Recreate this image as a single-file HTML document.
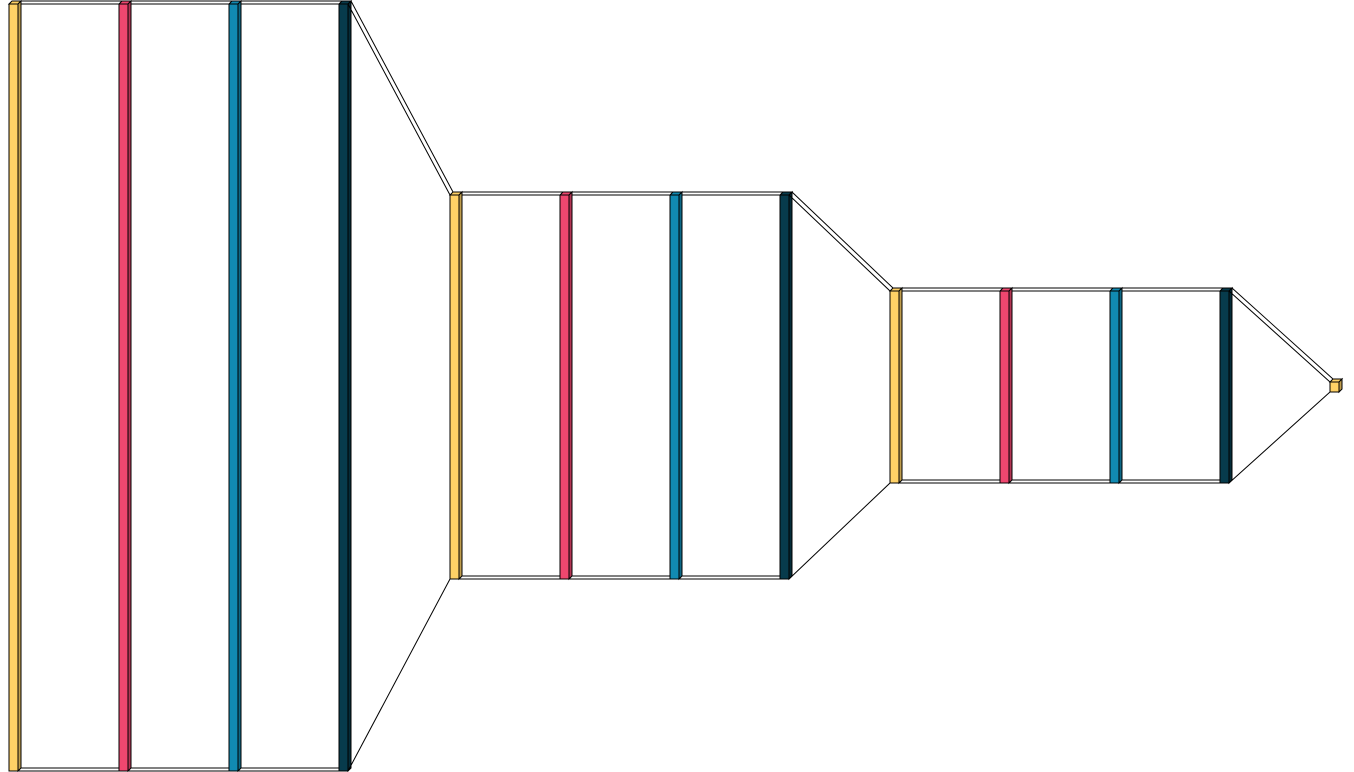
<!DOCTYPE html>
<html><head><meta charset="utf-8"><style>
html,body{margin:0;padding:0;background:#fff;}
svg{display:block;}
</style></head><body>
<svg id="chart" width="1354" height="772" viewBox="0 0 1354 772" xmlns="http://www.w3.org/2000/svg"></svg>
<script>
// stage data: x position of first layer, top y, front height
const stageX = [9, 450, 890];
const stageTop = [4, 195, 291];
const stageHeight = [767, 384, 192];
const layerColors = ['#FFD166', '#EF476F', '#118AB2', '#073B4C'];
const layerNames = ['input-layer', 'conv-layer', 'norm-layer', 'pool-layer'];
const finalBox = [1330, 382, 9, 10];

const svg = document.getElementById('chart');
const NS = 'http://www.w3.org/2000/svg';
const D = 3, W = 9, GAP = 110;

function shade(hex, f) {
  const n = parseInt(hex.slice(1), 16);
  const r = Math.round(((n >> 16) & 255) * f), g = Math.round(((n >> 8) & 255) * f), b = Math.round((n & 255) * f);
  return `rgb(${r},${g},${b})`;
}
function mk(tag, attrs, parent) {
  const e = document.createElementNS(NS, tag);
  for (const k in attrs) e.setAttribute(k, attrs[k]);
  (parent || svg).appendChild(e);
  return e;
}
function box(x, y, w, h, color, name) {
  const g = mk('g', {});
  
  
  mk('rect', {x, y, width: w, height: h, fill: color, stroke: '#000', 'stroke-width': 1}, g);
  mk('polygon', {points: `${x},${y} ${x+D},${y-D} ${x+w+D},${y-D} ${x+w},${y}`, fill: shade(color, 1.0), stroke: '#000', 'stroke-width': 1}, g);
  mk('polygon', {points: `${x+w},${y} ${x+w+D},${y-D} ${x+w+D},${y+h-D} ${x+w},${y+h}`, fill: shade(color, 0.75), stroke: '#000', 'stroke-width': 1}, g);
}
function line(x1, y1, x2, y2, name) {
  const l = mk('line', {x1, y1, x2, y2, stroke: '#000', 'stroke-width': 1});
  
  
}

stageX.forEach((sx, s) => {
  const top = stageTop[s], h = stageHeight[s], bot = top + h;
  const endX = sx + GAP * (layerColors.length - 1);
  // connecting band between layers
  line(sx + W, top, endX, top, 'stage-band-top');
  line(sx + W + D, top - D, endX + D, top - D, 'stage-band-top-back');
  line(sx + W, bot, endX, bot, 'stage-band-bottom');
  line(sx + W + D, bot - D, endX + D, bot - D, 'stage-band-bottom-back');
  layerColors.forEach((c, i) => box(sx + GAP * i, top, W, h, c, layerNames[i] + '-' + (s + 1)));
  // funnel to next stage
  let nx, nt, nb;
  if (s + 1 < stageX.length) { nx = stageX[s + 1]; nt = stageTop[s + 1]; nb = nt + stageHeight[s + 1]; }
  else { nx = finalBox[0]; nt = finalBox[1]; nb = finalBox[1] + finalBox[3]; }
  line(endX + W + D, top - D, nx + D, nt - D, 'funnel-top-back');
  line(endX + W, top, nx, nt, 'funnel-top');
  line(endX + W, bot, nx, nb, 'funnel-bottom');
});
box(finalBox[0], finalBox[1], finalBox[2], finalBox[3], layerColors[0], 'output-layer');
</script>
</body></html>
